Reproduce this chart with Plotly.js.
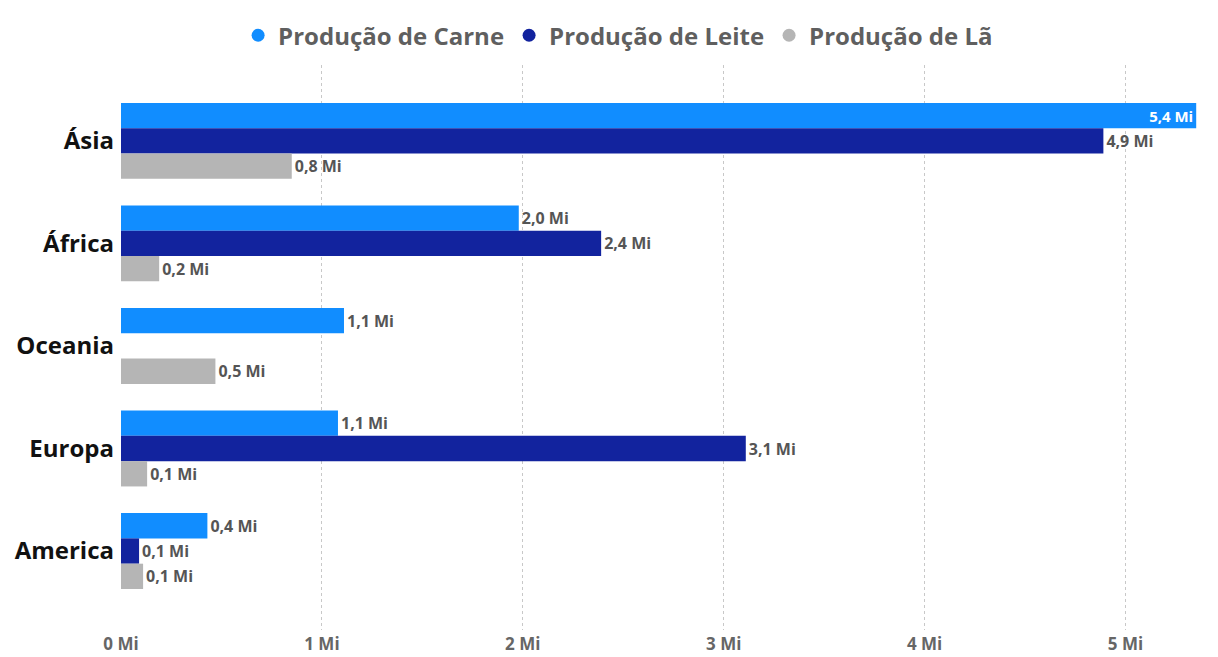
<!DOCTYPE html>
<html>
<head>
<meta charset="utf-8">
<script src="https://cdn.plot.ly/plotly-3.0.1.min.js"></script>
<style>html,body{margin:0;padding:0;background:#fff;}#chart{width:1218px;height:657px;}</style>
</head>
<body>
<div id="chart"></div>
<script>
const regions = ['Ásia', 'África', 'Oceania', 'Europa', 'America'];
const carne = [5.352, 1.98, 1.11, 1.08, 0.43];
const leite = [4.89, 2.39, null, 3.11, 0.09];
const la = [0.85, 0.19, 0.47, 0.13, 0.11];
const seriesNames = ['Produção de Carne', 'Produção de Leite', 'Produção de Lã'];
const colors = ['#118DFF', '#12239E', '#B5B5B5'];
const tickVals = [0, 1, 2, 3, 4, 5];
const tickText = ['0 Mi', '1 Mi', '2 Mi', '3 Mi', '4 Mi', '5 Mi'];

const FONT = 'Open Sans, DejaVu Sans, sans-serif';
const values = [carne, leite, la];
const traces = values.map((v, i) => ({
  type: 'bar',
  orientation: 'h',
  name: seriesNames[i],
  y: regions,
  x: v,
  marker: {color: colors[i]},
  texttemplate: '<b>%{x:.1f} Mi</b>',
  textposition: v.map((val, j) => (i === 0 && j === 0) ? 'inside' : 'outside'),
  textangle: 0,
  insidetextanchor: 'end',
  insidetextfont: {color: '#ffffff', size: 15, family: FONT},
  outsidetextfont: {color: '#555555', size: 16, family: FONT},
  constraintext: 'none',
  cliponaxis: false,
  showlegend: false,
  hoverinfo: 'x+y'
}));
// legend proxies with circle markers
seriesNames.forEach((n, i) => {
  traces.push({
    type: 'scatter', mode: 'markers', name: n,
    x: [null], y: [null],
    marker: {color: colors[i], size: 13, symbol: 'circle'},
    showlegend: true, hoverinfo: 'skip'
  });
});

const layout = {
  width: 1218, height: 657,
  margin: {l: 121, r: 21, t: 65, b: 27},
  paper_bgcolor: '#ffffff', plot_bgcolor: '#ffffff',
  separators: ',.',
  barmode: 'group',
  bargap: 0.26,
  bargroupgap: 0,
  showlegend: true,
  legend: {
    orientation: 'h', x: 0.462, xref: 'paper', xanchor: 'center',
    y: 0.98, yref: 'container', yanchor: 'top',
    font: {family: FONT, size: 24, color: '#5f5f5f', weight: 'bold'},
    itemwidth: 20, tracegroupgap: 0,
    itemclick: false
  },
  xaxis: {
    range: [0, 5.356],
    tickvals: tickVals, ticktext: tickText,
    showgrid: true, gridcolor: '#c8c8c8', griddash: 'dot', gridwidth: 1,
    zeroline: false, showline: false,
    tickfont: {family: FONT, size: 17, color: '#666666', weight: 'bold'},
    ticks: '', ticklabelstandoff: 2,
    fixedrange: true
  },
  yaxis: {
    type: 'category',
    categoryorder: 'array', categoryarray: regions,
    range: [4.77, -0.74],
    showgrid: false, zeroline: false, showline: false,
    tickfont: {family: FONT, size: 24, color: '#111111', weight: 'bold'},
    ticks: '', ticklabelstandoff: 6,
    fixedrange: true
  }
};
Plotly.newPlot('chart', traces, layout, {displayModeBar: false, staticPlot: true});
</script>
</body>
</html>
